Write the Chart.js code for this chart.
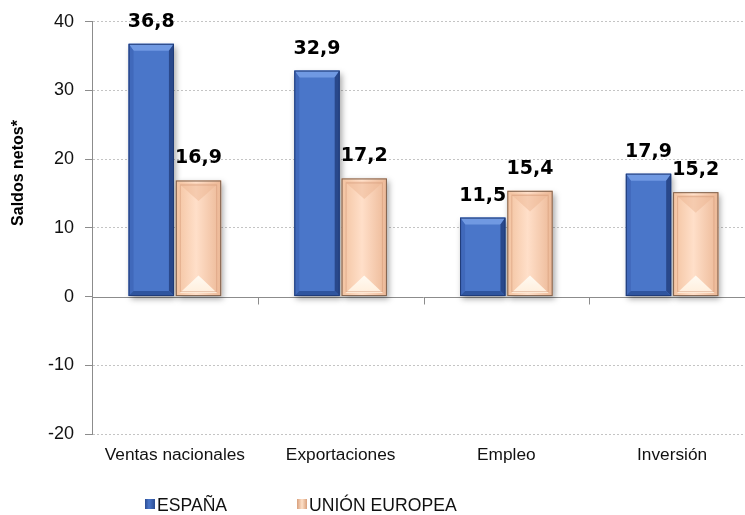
<!DOCTYPE html>
<html>
<head>
<meta charset="utf-8">
<script src="https://cdn.jsdelivr.net/npm/chart.js@4.4.1/dist/chart.umd.min.js"></script>
<style>
  html, body { margin: 0; padding: 0; background: #fff; overflow: hidden; }
  #wrap { position: relative; width: 758px; height: 515px; }
  canvas { position: absolute; left: 0; top: 0; }
  .leg { position: absolute; top: 493px; height: 24px; line-height: 24px;
         font-family: "Liberation Sans", Arial, sans-serif;
         font-size: 17.6px; color: #111; white-space: nowrap; }
  .sw { display: inline-block; width: 10px; height: 10px; vertical-align: middle; margin-right: 2px; position: relative; top: -2px; }
</style>
</head>
<body>
<div id="wrap">
  <canvas id="c" width="758" height="515"></canvas>
  <div class="leg" style="left:145px;"><span class="sw" style="background:linear-gradient(90deg,#2c4d93,#4a76c9 40%,#2c4d93);"></span>ESPAÑA</div>
  <div class="leg" style="left:297px;"><span class="sw" style="background:linear-gradient(90deg,#d9a07c,#fde0c8 50%,#d9a07c);"></span>UNIÓN EUROPEA</div>
</div>
<script>
const categories = ['Ventas nacionales', 'Exportaciones', 'Empleo', 'Inversión'];
const espana = [36.8, 32.9, 11.5, 17.9];
const unionEuropea = [16.9, 17.2, 15.4, 15.2];
const seriesNames = ['ESPAÑA', 'UNIÓN EUROPEA'];
const yTicks = [-20, -10, 0, 10, 20, 30, 40];
const yTitle = 'Saldos netos*';

const FONT = '"Liberation Sans", Arial, sans-serif';

const bevelStyles = [
  { b: 7, top: '#7099e2', left: '#4069bb', right: '#29488b', bottom: '#2f559f', line: '#1f3a76', tri: false },
  { b: 0, line: '#7d604c', tri: true }
];

const bevelPlugin = {
  id: 'bevel',
  beforeDatasetsDraw(chart) {
    const ctx = chart.ctx;
    const xs = chart.scales.x, ys = chart.scales.y;
    const y0 = Math.round(ys.getPixelForValue(0)) + 0.5;
    ctx.save();
    ctx.strokeStyle = '#8c8c8c';
    ctx.lineWidth = 1;
    ctx.beginPath();
    ctx.moveTo(xs.left, y0);
    ctx.lineTo(xs.right, y0);
    for (let i = 0; i < categories.length - 1; i++) {
      const bx = Math.round((xs.getPixelForValue(i) + xs.getPixelForValue(i + 1)) / 2) + 0.5;
      ctx.moveTo(bx, y0);
      ctx.lineTo(bx, y0 + 7);
    }
    ctx.stroke();
    ctx.restore();
    ctx.save();
    ctx.shadowColor = 'rgba(0,0,0,0.35)';
    ctx.shadowBlur = 6;
    ctx.shadowOffsetX = 2;
    ctx.shadowOffsetY = 3;
  },
  afterDatasetsDraw(chart) {
    const ctx = chart.ctx;
    ctx.restore();
    chart.data.datasets.forEach((ds, di) => {
      const meta = chart.getDatasetMeta(di);
      const st = bevelStyles[di];
      meta.data.forEach(el => {
        const p = el.getProps(['x', 'y', 'base', 'width'], true);
        const l = p.x - p.width / 2, r = p.x + p.width / 2;
        const t = Math.min(p.y, p.base), bt = Math.max(p.y, p.base);
        const w = r - l, h = bt - t;
        const poly = (pts, c) => {
          ctx.beginPath();
          ctx.moveTo(pts[0][0], pts[0][1]);
          for (let i = 1; i < pts.length; i++) ctx.lineTo(pts[i][0], pts[i][1]);
          ctx.closePath();
          ctx.fillStyle = c;
          ctx.fill();
        };
        ctx.save();
        if (st.tri) {
          const byT = Math.min(w / 2.2, h / 2), byB = Math.min(w / 2.2, h / 2);
          const g = ctx.createLinearGradient(l, 0, r, 0);
          g.addColorStop(0, '#f3c3a0');
          g.addColorStop(0.45, '#ffdfc9');
          g.addColorStop(1, '#ecb896');
          poly([[l, t], [r, t], [r, bt], [l, bt]], g);
          poly([[l + 3, t + 3], [r - 3, t + 3], [p.x, t + byT]], 'rgba(236,180,145,0.45)');
          const g2 = ctx.createLinearGradient(0, bt - byB, 0, bt);
          g2.addColorStop(0, '#fffaf2');
          g2.addColorStop(1, '#ffecd8');
          poly([[l + 4, bt - 3], [p.x, bt - byB], [r - 4, bt - 3]], g2);
          ctx.strokeStyle = 'rgba(210,150,115,0.5)';
          ctx.lineWidth = 1;
          ctx.strokeRect(l + 4.5, t + 4.5, w - 9, h - 9);
        } else {
          const bx = Math.min(5, w / 4), byT = Math.min(st.b, h / 2), byB = Math.min(5, h / 2);
          poly([[l, t], [r, t], [r - bx, t + byT], [l + bx, t + byT]], st.top);
          poly([[l, t], [l + bx, t + byT], [l + bx, bt - byB], [l, bt]], st.left);
          poly([[r, t], [r, bt], [r - bx, bt - byB], [r - bx, t + byT]], st.right);
          poly([[l, bt], [l + bx, bt - byB], [r - bx, bt - byB], [r, bt]], st.bottom);
        }
        ctx.strokeStyle = st.line;
        ctx.lineWidth = 1;
        ctx.strokeRect(l + 0.5, t + 0.5, w - 1, h - 1);
        ctx.restore();
      });
    });
  }
};

const labelPlugin = {
  id: 'valueLabels',
  afterDraw(chart) {
    const ctx = chart.ctx;
    ctx.save();
    ctx.font = 'bold 19px "DejaVu Sans", Verdana, sans-serif';
    ctx.fillStyle = '#000';
    ctx.textAlign = 'center';
    ctx.textBaseline = 'middle';
    chart.data.datasets.forEach((ds, di) => {
      const meta = chart.getDatasetMeta(di);
      meta.data.forEach((el, i) => {
        const v = ds.data[i];
        ctx.fillText(v.toFixed(1).replace('.', ','), el.x, el.y - 22);
      });
    });
    ctx.translate(19, 173);
    ctx.rotate(-Math.PI / 2);
    ctx.font = 'bold 16px ' + FONT;
    ctx.fillText(yTitle, 0, 0);
    ctx.restore();
  }
};

new Chart(document.getElementById('c'), {
  type: 'bar',
  data: {
    labels: categories,
    datasets: [
      { label: seriesNames[0], data: espana, backgroundColor: '#4a76c9', borderWidth: 0,
        categoryPercentage: 0.57, barPercentage: 0.96 },
      { label: seriesNames[1], data: unionEuropea, backgroundColor: '#fbcba9', borderWidth: 0,
        categoryPercentage: 0.57, barPercentage: 0.96 }
    ]
  },
  options: {
    responsive: false,
    devicePixelRatio: 1,
    animation: false,
    layout: { padding: { top: 21, right: 3, left: 0, bottom: 0 } },
    plugins: { legend: { display: false }, tooltip: { enabled: false } },
    scales: {
      x: {
        grid: { display: false, drawTicks: false },
        border: { display: false },
        ticks: { color: '#111', padding: 11, autoSkip: false, maxRotation: 0,
                 font: { family: FONT, size: 17.3 } },
        afterFit(s) { s.height = 81; }
      },
      y: {
        min: -20, max: 40,
        afterBuildTicks(s) { s.ticks = yTicks.map(v => ({ value: v })); },
        grid: {
          color: c => (c.tick && c.tick.value === 0) ? 'rgba(0,0,0,0)' : '#c4c4c4',
          tickColor: '#8c8c8c',
          tickLength: 7,
          tickBorderDash: []
        },
        border: { display: true, color: '#8c8c8c', dash: [2, 2] },
        ticks: { color: '#111', padding: 11, font: { family: FONT, size: 18 } },
        afterFit(s) { s.width = 92; }
      }
    }
  },
  plugins: [bevelPlugin, labelPlugin]
});
</script>
</body>
</html>
